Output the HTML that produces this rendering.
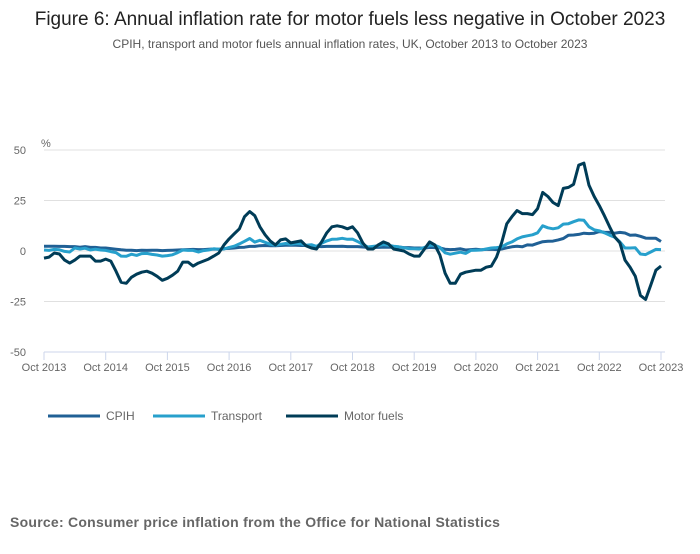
<!DOCTYPE html>
<html><head><meta charset="utf-8"><style>
body{margin:0;background:#fff;width:700px;height:549px;overflow:hidden;font-family:"Liberation Sans",sans-serif;}
svg text{font-family:"Liberation Sans",sans-serif;}
</style></head><body>
<svg id="c" width="700" height="549">
<text x="350" y="25" text-anchor="middle" font-size="19" fill="#222">Figure 6: Annual inflation rate for motor fuels less negative in October 2023</text>
<text x="350" y="48" text-anchor="middle" font-size="12" fill="#555">CPIH, transport and motor fuels annual inflation rates, UK, October 2013 to October 2023</text>
<text x="41" y="147" font-size="11" fill="#666">%</text>
<g id="grid"></g><g id="xax"></g><g id="lines"></g>
<g>
<line x1="48" y1="416" x2="100" y2="416" stroke="#206095" stroke-width="3"/>
<text x="106" y="420" font-size="12" fill="#666">CPIH</text>
<line x1="153" y1="416" x2="205" y2="416" stroke="#27a0cc" stroke-width="3"/>
<text x="211" y="420" font-size="12" fill="#666">Transport</text>
<line x1="286" y1="416" x2="338" y2="416" stroke="#003c57" stroke-width="3"/>
<text x="344" y="420" font-size="12" fill="#666">Motor fuels</text>
</g>
<text x="10" y="527" font-size="14" font-weight="bold" fill="#666" letter-spacing="0.25">Source: Consumer price inflation from the Office for National Statistics</text>
</svg>
<script>
const yTicks=[50,25,0,-25,-50];
const xLabels=["Oct 2013","Oct 2014","Oct 2015","Oct 2016","Oct 2017","Oct 2018","Oct 2019","Oct 2020","Oct 2021","Oct 2022","Oct 2023"];
const cpih=[2.4,2.4,2.4,
2.3,2.3,2.2,2.2,1.9,2.2,1.8,1.8,1.5,1.5,1.2,0.9,
0.6,0.4,0.4,0.2,0.4,0.3,0.4,0.4,0.2,0.3,0.4,0.5,
0.6,0.7,0.8,0.7,0.7,0.9,1.0,0.9,1.2,1.3,1.5,1.8,
1.9,2.3,2.3,2.6,2.7,2.6,2.6,2.7,2.8,2.8,2.8,2.7,
2.7,2.5,2.3,2.2,2.3,2.3,2.3,2.4,2.2,2.2,2.2,2.0,
1.8,1.8,1.8,1.9,1.9,1.9,2.0,1.7,1.7,1.5,1.5,1.4,
1.8,1.7,1.5,0.9,0.7,0.8,1.1,0.5,0.7,0.9,0.6,0.8,
0.9,0.7,1.0,1.6,2.1,2.4,2.1,3.0,2.9,3.8,4.6,4.8,
4.9,5.5,6.2,7.8,7.9,8.2,8.8,8.6,8.8,9.6,9.3,9.2,
8.8,9.2,8.9,7.8,7.9,7.3,6.4,6.3,6.3,4.7];
const transport=[0.5,0.3,0.8,
0.6,-0.2,-0.5,1.5,1.0,1.4,0.5,0.9,0.5,0.3,-0.3,-0.8,
-2.5,-2.6,-1.6,-2.2,-1.3,-1.2,-1.7,-2.0,-2.5,-2.3,-1.9,-0.8,
0.5,0.3,0.3,-0.5,0.2,0.5,1.1,0.9,1.0,1.8,2.4,3.5,
4.8,6.2,4.4,5.3,4.3,3.3,2.8,3.3,3.7,3.3,3.7,3.5,
2.8,3.1,2.3,3.8,5.0,5.8,5.9,6.3,5.8,5.9,4.7,3.2,
2.0,2.3,2.6,3.2,2.8,2.4,2.1,1.6,1.2,1.1,1.0,1.8,
2.7,2.8,1.8,-0.9,-1.6,-1.1,-0.6,-1.2,0.3,0.4,0.5,1.0,
1.5,1.7,2.0,3.5,4.5,6.0,7.0,7.5,8.0,9.0,12.5,11.5,
11.0,11.5,13.3,13.5,14.5,15.4,15.2,12.0,10.5,10.0,9.0,7.8,
6.8,4.5,1.5,1.5,1.6,-1.5,-1.8,-0.5,0.8,0.7];
const motorFuels=[-3.5,-3,-1,
-1.5,-4.5,-6,-4.5,-2.5,-2.5,-2.5,-5,-5,-4,-5,-10,
-15.5,-16,-13,-11.5,-10.5,-10,-11,-12.5,-14.5,-13.5,-12,-10,
-5.5,-5.5,-7.5,-6,-5,-4,-2.5,-1,3,6,8.5,11,
17,19.5,17.5,12,8,5,3,5.5,6,4,4.5,5,
2.5,1.5,1,4.5,9,12,12.5,12,11,12,9,4,
1,1,3,4.5,3.5,1,0.5,0,-1.5,-2.5,-2.5,1,
4.5,3,-2,-11,-16,-16,-11.5,-10.5,-10,-9.5,-9.5,-8,
-7.5,-3,4,13.5,17,20,18.5,18.5,18,21,29,27,
24,22.5,31,31.5,33,42.5,43.5,32.5,27,22.5,17.5,12,
7,4,-4.5,-8,-12.5,-22,-24,-17,-9.5,-7.5];
const NS='http://www.w3.org/2000/svg';
const X0=44,X1=661,Y0=251,PPU=2.02;
const xs=i=>X0+(X1-X0)*i/120;
const ys=v=>Y0-v*PPU;
function mk(t,a,p){const e=document.createElementNS(NS,t);for(const k in a)e.setAttribute(k,a[k]);p.appendChild(e);return e;}
const grid=document.getElementById('grid');
yTicks.forEach(v=>{
  const l=mk('line',{x1:X0,x2:X1+4,y1:ys(v),y2:ys(v),stroke:v===-50?'#ccd6eb':'#e0e0e0','stroke-width':1},grid);
  
  
  const t=mk('text',{x:26,y:ys(v)+4,'text-anchor':'end','font-size':11,fill:'#666'},grid);
  t.textContent=v;
  
  
});
const xax=document.getElementById('xax');
xLabels.forEach((s,k)=>{
  const x=xs(k*12);
  const tk=mk('line',{x1:x,x2:x,y1:ys(-50),y2:ys(-50)+8,stroke:'#ccd6eb'},xax);
  
  
  const t=mk('text',{x:x,y:371,'text-anchor':'middle','font-size':11,fill:'#666'},xax);
  t.textContent=s;
  
  
});
const lines=document.getElementById('lines');
[[cpih,'#206095','cpih-line'],[transport,'#27a0cc','transport-line'],[motorFuels,'#003c57','motor-fuels-line']].forEach(([d,c,n])=>{
  const p=mk('path',{d:d.map((v,i)=>(i?'L':'M')+xs(i).toFixed(1)+','+ys(v).toFixed(1)).join(''),fill:'none',stroke:c,'stroke-width':3,'stroke-linejoin':'round'},lines);
  
  
});
</script>
</body></html>
